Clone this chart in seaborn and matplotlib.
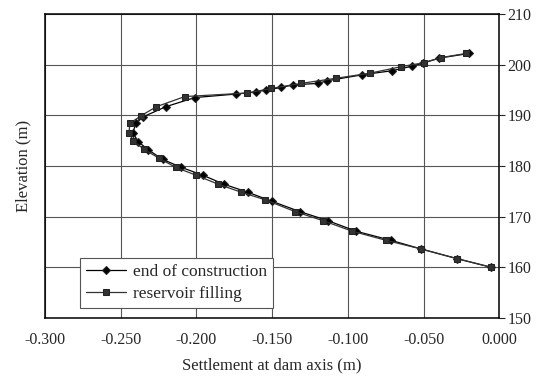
import matplotlib
matplotlib.use('Agg')
import matplotlib.pyplot as plt
import pandas as pd
import seaborn as sns

# end of construction (diamonds), bottom to top
eoc_settlement = [-0.0055, -0.028, -0.0516, -0.0714, -0.0945, -0.1133, -0.1319, -0.150,
                  -0.166, -0.182, -0.196, -0.2099, -0.2224, -0.2319, -0.2385, -0.2420,
                  -0.2400, -0.2352, -0.2202, -0.2011, -0.1736, -0.1609, -0.1538, -0.1440,
                  -0.1363, -0.1198, -0.1139, -0.0905, -0.0708, -0.0576, -0.0505, -0.0396,
                  -0.0202]
eoc_elevation = [160.0, 161.7, 163.6, 165.3, 167.1, 169.2, 171.0, 173.0,
                 174.8, 176.4, 178.2, 179.7, 181.3, 183.2, 184.8, 186.6,
                 188.4, 189.7, 191.7, 193.5, 194.2, 194.6, 195.0, 195.5,
                 196.0, 196.3, 196.8, 198.0, 198.8, 199.7, 200.3, 201.3,
                 202.2]

# reservoir filling (squares), bottom to top
rf_settlement = [-0.0055, -0.028, -0.0516, -0.0747, -0.0970, -0.1165, -0.1350, -0.1545,
                 -0.1703, -0.1857, -0.2005, -0.2136, -0.2246, -0.2347, -0.2418, -0.2445,
                 -0.2440, -0.2367, -0.2264, -0.2077, -0.1664, -0.1505, -0.1308, -0.1081,
                 -0.0857, -0.0648, -0.0495, -0.0384, -0.0220]
rf_elevation = [160.0, 161.7, 163.6, 165.3, 167.1, 169.2, 171.0, 173.3,
                174.8, 176.4, 178.2, 179.7, 181.5, 183.3, 184.95, 186.6,
                188.4, 189.9, 191.7, 193.7, 194.4, 195.3, 196.3, 197.3,
                198.3, 199.6, 200.4, 201.4, 202.2]

series_names = ['end of construction', 'reservoir filling']
x_ticks = [-0.300, -0.250, -0.200, -0.150, -0.100, -0.050, 0.000]
y_ticks = [150, 160, 170, 180, 190, 200, 210]

data = pd.DataFrame({
    'settlement': eoc_settlement + rf_settlement,
    'elevation': eoc_elevation + rf_elevation,
    'series': [series_names[0]] * len(eoc_settlement) + [series_names[1]] * len(rf_settlement),
})

sns.set_style('white')
plt.rcParams['font.family'] = ['Liberation Serif', 'DejaVu Serif']

fig = plt.figure(figsize=(5.39, 3.78), dpi=100)
ax = fig.add_axes([0.0835, 0.159, 0.843, 0.804])

ax = sns.lineplot(data=data, x='settlement', y='elevation', hue='series', style='series',
                  sort=False, estimator=None, units='series',
                  palette={series_names[0]: 'black', series_names[1]: '#333333'},
                  markers={series_names[0]: 'D', series_names[1]: 's'},
                  dashes=False, markersize=4, linewidth=0.9,
                  markeredgecolor='#222222', ax=ax)

ax.set_xlim(-0.300, 0.000)
ax.set_ylim(150, 210)
ax.set_xticks(x_ticks)
ax.set_xticklabels(['%.3f' % t for t in x_ticks])
ax.set_yticks(y_ticks)
ax.grid(True, color='#555555', linewidth=0.8)
ax.set_axisbelow(True)

ax.yaxis.tick_right()
ax.yaxis.set_label_position('left')
ax.tick_params(axis='y', which='both', right=True, left=False, direction='out',
               length=4, width=0.8, labelsize=11.5, pad=2)
ax.tick_params(axis='x', bottom=True, direction='out', length=0, labelsize=11.5, pad=10)
for spine in ax.spines.values():
    spine.set_color('black')
    spine.set_linewidth(1.1)

ax.set_xlabel('Settlement at dam axis (m)', fontsize=12, labelpad=7)
ax.set_ylabel('Elevation (m)', fontsize=12, labelpad=10)

leg = ax.legend(title=None, loc='lower left', bbox_to_anchor=(0.077, 0.033),
                borderaxespad=0, fontsize=12.5, frameon=True, fancybox=False,
                handlelength=2.3, handletextpad=0.4, borderpad=0.35, labelspacing=0.3)
leg.get_frame().set_edgecolor('#555555')
leg.get_frame().set_linewidth(0.8)
leg.get_frame().set_alpha(1)

fig.savefig('out.png', dpi=100)
